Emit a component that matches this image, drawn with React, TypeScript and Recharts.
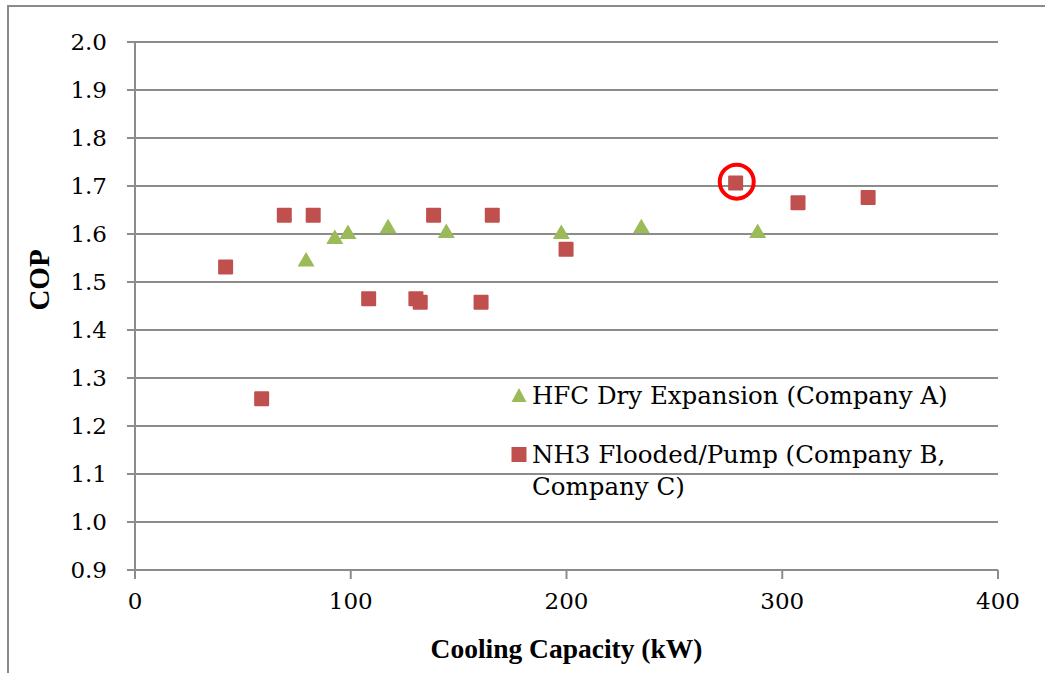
import { CartesianGrid, Label, Legend, ReferenceDot, Scatter, ScatterChart, XAxis, YAxis } from "recharts";

const hfcCapacity = [79.3, 92.6, 98.7, 117.3, 144.3, 197.6, 234.7, 288.6];
const hfcCop = [1.547, 1.594, 1.604, 1.616, 1.606, 1.604, 1.616, 1.606];

const nh3Capacity = [42.0, 58.7, 69.2, 82.6, 108.3, 130.2, 132.2, 138.4, 160.4, 165.6, 199.8, 278.4, 307.3, 339.8];
const nh3Cop = [1.531, 1.257, 1.639, 1.639, 1.465, 1.465, 1.458, 1.639, 1.458, 1.639, 1.568, 1.706, 1.665, 1.676];

const xTicks = [0, 100, 200, 300, 400];
const yTicks = [0.9, 1.0, 1.1, 1.2, 1.3, 1.4, 1.5, 1.6, 1.7, 1.8, 1.9, 2.0];

// circled point (best NH3 unit)
const highlight = { x: 278.9, y: 1.709 };

const HFC_NAME = "HFC Dry Expansion (Company A)";
const NH3_NAME = "NH3 Flooded/Pump (Company B, Company C)";

const hfcData = hfcCapacity.map((x, i) => ({ x, y: hfcCop[i] }));
const nh3Data = nh3Capacity.map((x, i) => ({ x, y: nh3Cop[i] }));

const GREEN = "#9BBB59";
const RED = "#C0504D";
const GRID = "#8c8c8c";
const tickFont = { fontFamily: "DejaVu Serif", fontSize: 23, fill: "#000" };

const Triangle = (props: any) => {
  const { cx, cy } = props;
  return <polygon points={`${cx},${cy - 7.5} ${cx + 8.5},${cy + 7} ${cx - 8.5},${cy + 7}`} fill={GREEN} />;
};

const Square = (props: any) => {
  const { cx, cy } = props;
  return <rect x={cx - 7.5} y={cy - 7.5} width={15} height={15} rx={1} fill={RED} />;
};

const LegendBox = (props: any) => {
  const items = props.payload || [];
  return (
    <div style={{ fontFamily: "DejaVu Serif", fontSize: 24.5, lineHeight: "32px", color: "#000", width: 470 }}>
      {items.map((it: any, i: number) => (
        <div key={i} style={{ position: "relative", paddingLeft: 32, marginBottom: 27 }}>
          <svg width={16} height={16} style={{ position: "absolute", left: 11, top: 7 }}>
            {it.type === "triangle" ? (
              <polygon points="8,1 15.5,15 0.5,15" fill={it.color} />
            ) : (
              <rect x={0.5} y={1} width={15} height={15} fill={it.color} />
            )}
          </svg>
          {it.value}
        </div>
      ))}
    </div>
  );
};

export default function App() {
  return (
    <div style={{ position: "relative", width: 1045, height: 673, overflow: "hidden", background: "#fff" }}>
      <style>{"body{margin:0}"}</style>
      <div style={{ position: "absolute", left: 7, top: 5, width: 1200, height: 800, border: "2px solid #8a8a8a" }} />
      <div style={{ position: "absolute", left: 0, top: 0 }}>
        <ScatterChart width={1045} height={673} margin={{ top: 42, right: 47, left: 50, bottom: 43 }}>
          <CartesianGrid vertical={false} stroke={GRID} strokeWidth={2} />
          <XAxis
            type="number"
            dataKey="x"
            domain={[0, 400]}
            ticks={xTicks}
            height={60}
            tick={tickFont}
            tickSize={9}
            tickMargin={14}
            axisLine={{ stroke: GRID, strokeWidth: 2 }}
            tickLine={{ stroke: GRID, strokeWidth: 2 }}
          >
            <Label
              value="Cooling Capacity (kW)"
              position="bottom"
              offset={8}
              style={{ fontFamily: "Liberation Serif", fontSize: 27.5, fontWeight: "bold", fill: "#000" }}
            />
          </XAxis>
          <YAxis
            type="number"
            dataKey="y"
            domain={[0.9, 2.0]}
            ticks={yTicks}
            width={85}
            tick={tickFont}
            tickFormatter={(v: number) => v.toFixed(1)}
            tickSize={8}
            tickMargin={20}
            axisLine={{ stroke: GRID, strokeWidth: 2 }}
            tickLine={{ stroke: GRID, strokeWidth: 2 }}
            allowDataOverflow
          >
            <Label
              content={(p: any) => {
                const vb = p.viewBox;
                const cx = vb.x - 11;
                const cy = vb.y + vb.height / 2 - 26;
                return (
                  <text
                    x={cx}
                    y={cy}
                    transform={`rotate(-90 ${cx} ${cy})`}
                    textAnchor="middle"
                    dominantBaseline="central"
                    style={{ fontFamily: "Liberation Serif", fontSize: 29, fontWeight: "bold", fill: "#000" }}
                  >
                    COP
                  </text>
                );
              }}
            />
          </YAxis>
          <Legend
            layout="horizontal"
            verticalAlign="middle"
            align="center"
            content={<LegendBox />}
            wrapperStyle={{ left: 500, top: 380, width: 470 }}
          />
          <Scatter name={HFC_NAME} data={hfcData} fill={GREEN} legendType="triangle" shape={<Triangle />} isAnimationActive={false} />
          <Scatter name={NH3_NAME} data={nh3Data} fill={RED} legendType="square" shape={<Square />} isAnimationActive={false} />
          <ReferenceDot x={highlight.x} y={highlight.y} r={17} fill="none" stroke="#FF0000" strokeWidth={4} />
        </ScatterChart>
      </div>
    </div>
  );
}
